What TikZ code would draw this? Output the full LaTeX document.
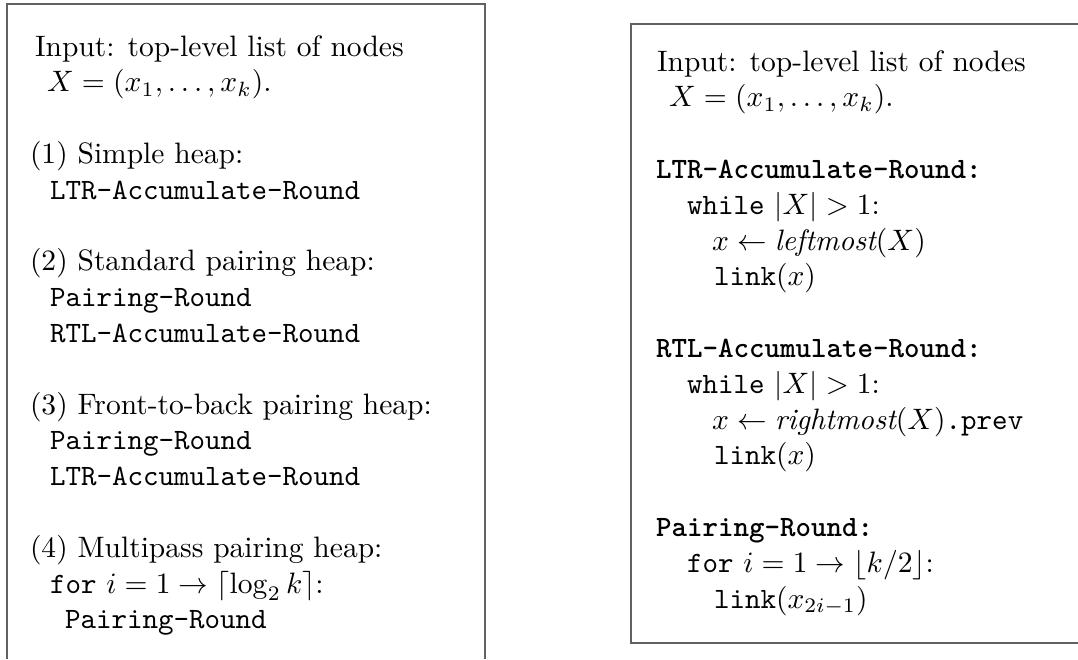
\documentclass[tikz,border=0pt]{standalone}
\begin{document}
\begin{tikzpicture}[x=0.3386pt,y=-0.3386pt,
  ln/.style={anchor=base west,inner sep=0pt,outer sep=0pt},
  frame/.style={draw=black!62,line width=0.7pt}]
\useasboundingbox (0,0) rectangle (1078,659);
% left frame (open at the bottom)
\coordinate (L1) at (7,659);
\coordinate (L2) at (7,4);
\coordinate (L3) at (485,4);
\coordinate (L4) at (485,659);
\draw[frame] (L1) -- (L2) -- (L3) -- (L4);
% right frame (open at the right)
\coordinate (R1) at (1078,24);
\coordinate (R2) at (631,24);
\coordinate (R3) at (631,643);
\coordinate (R4) at (1078,643);
\draw[frame] (R1) -- (R2) -- (R3) -- (R4);
% left text
\node[ln] (l0)  at (35,56)    {Input: top-level list of nodes};
\node[ln] (l1)  at (47,91.8)  {$X=(x_1,\dots,x_k)$.};
\node[ln] (l3)  at (30,163.4) {(1) Simple heap:};
\node[ln] (l4)  at (50,199.2) {\texttt{LTR-Accumulate-Round}};
\node[ln] (l6)  at (30,270.8) {(2) Standard pairing heap:};
\node[ln] (l7)  at (50,306.6) {\texttt{Pairing-Round}};
\node[ln] (l8)  at (50,342.4) {\texttt{RTL-Accumulate-Round}};
\node[ln] (l10) at (30,414)   {(3) Front-to-back pairing heap:};
\node[ln] (l11) at (50,449.8) {\texttt{Pairing-Round}};
\node[ln] (l12) at (50,485.6) {\texttt{LTR-Accumulate-Round}};
\node[ln] (l14) at (30,557.2) {(4) Multipass pairing heap:};
\node[ln] (l15) at (50,593)   {\texttt{for} $i=1\rightarrow\lceil\log_2 k\rceil$:};
\node[ln] (l16) at (65,628.8) {\texttt{Pairing-Round}};
% right text
\node[ln] (r0)  at (657,71)    {Input: top-level list of nodes};
\node[ln] (r1)  at (669,106.8) {$X=(x_1,\dots,x_k)$.};
\node[ln] (r3)  at (656,178.4) {\texttt{\bfseries LTR-Accumulate-Round:}};
\node[ln] (r4)  at (687,214.2) {\texttt{while} $|X|>1$:};
\node[ln] (r5)  at (712,250)   {$x\leftarrow\textit{leftmost}(X)$};
\node[ln] (r6)  at (714,285.8) {\texttt{link}$(x)$};
\node[ln] (r8)  at (656,357.4) {\texttt{\bfseries RTL-Accumulate-Round:}};
\node[ln] (r9)  at (687,393.2) {\texttt{while} $|X|>1$:};
\node[ln] (r10) at (712,429)   {$x\leftarrow\textit{rightmost}(X)$\texttt{.prev}};
\node[ln] (r11) at (714,464.8) {\texttt{link}$(x)$};
\node[ln] (r13) at (656,536.4) {\texttt{\bfseries Pairing-Round:}};
\node[ln] (r14) at (687,572.2) {\texttt{for} $i=1\rightarrow\lfloor k/2\rfloor$:};
\node[ln] (r15) at (714,608)   {\texttt{link}$(x_{2i-1})$};
\end{tikzpicture}
\end{document}
